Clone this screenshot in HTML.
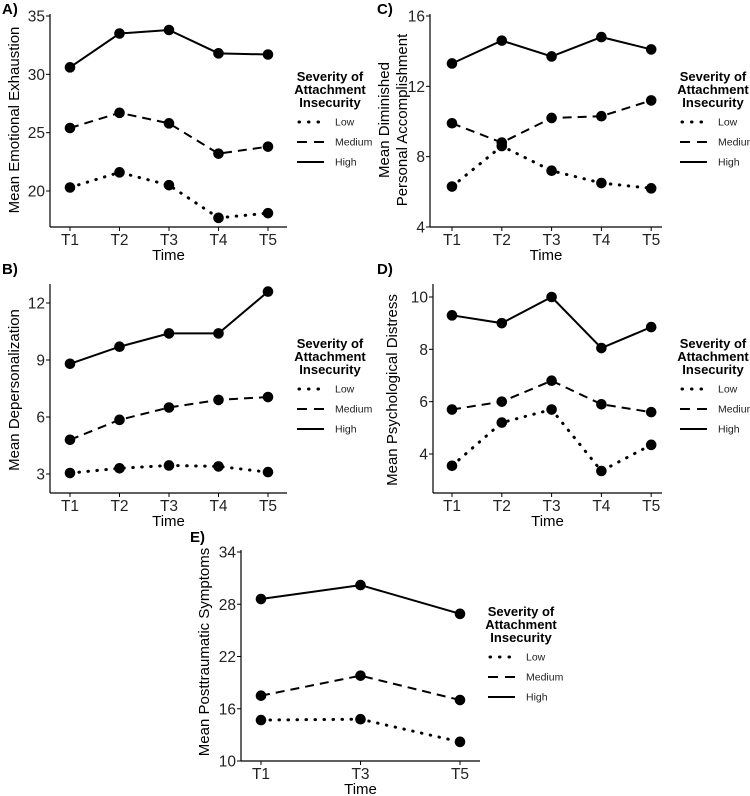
<!DOCTYPE html>
<html><head><meta charset="utf-8"><style>
html,body{margin:0;padding:0;background:#fff;}
svg{display:block;font-family:"Liberation Sans",Arial,sans-serif;}
</style></head><body>
<svg id="fig" width="750" height="796" viewBox="0 0 750 796" xmlns="http://www.w3.org/2000/svg"></svg>
<script>
const ticksT5 = ["T1","T2","T3","T4","T5"];
const ticksT3 = ["T1","T3","T5"];
const seriesNames = ["Low","Medium","High"];
// Panel A
const aHigh = [30.6, 33.5, 33.8, 31.8, 31.7];
const aMed  = [25.4, 26.7, 25.8, 23.2, 23.8];
const aLow  = [20.3, 21.6, 20.5, 17.7, 18.1];
const aTicks = [20, 25, 30, 35];
// Panel C
const cHigh = [13.3, 14.6, 13.7, 14.8, 14.1];
const cMed  = [9.9, 8.8, 10.2, 10.3, 11.2];
const cLow  = [6.3, 8.6, 7.2, 6.5, 6.2];
const cTicks = [4, 8, 12, 16];
// Panel B
const bHigh = [8.8, 9.7, 10.4, 10.4, 12.6];
const bMed  = [4.8, 5.85, 6.5, 6.9, 7.05];
const bLow  = [3.05, 3.3, 3.45, 3.4, 3.1];
const bTicks = [3, 6, 9, 12];
// Panel D
const dHigh = [9.3, 9.0, 10.0, 8.05, 8.85];
const dMed  = [5.7, 6.0, 6.8, 5.9, 5.6];
const dLow  = [3.55, 5.2, 5.7, 3.35, 4.35];
const dTicks = [4, 6, 8, 10];
// Panel E
const eHigh = [28.6, 30.2, 26.9];
const eMed  = [17.5, 19.8, 17.0];
const eLow  = [14.7, 14.8, 12.2];
const eTicks = [10, 16, 22, 28, 34];

const NS = "http://www.w3.org/2000/svg";
const svg = document.getElementById('fig');
function mk(tag, attrs, parent, text){
  const e = document.createElementNS(NS, tag);
  for (const k in attrs) e.setAttribute(k, attrs[k]);
  if (text !== undefined) e.textContent = text;
  (parent || svg).appendChild(e);
  return e;
}
const styles = {Low:"0.5 8.5", Medium:"9 6", High:""};

function panel(p){
  const g = mk('g', {});
  
  
  const yS = v => p.y0 + (v - p.v0) * (p.y1 - p.y0) / (p.v1 - p.v0);
  const xS = i => p.x0 + i * p.dx;
  const lab = mk('text', {x:p.lx, y:p.ly, 'font-size':15, 'font-weight':'bold'}, g, p.id.toUpperCase() + ')');
  
  
  const ya = mk('line', {x1:p.ax, y1:p.top, x2:p.ax, y2:p.bot, stroke:'#000', 'stroke-width':1.2}, g);
  
  
  const xa = mk('line', {x1:p.ax, y1:p.bot, x2:p.xend, y2:p.bot, stroke:'#000', 'stroke-width':1.2}, g);
  
  
  p.yticks.forEach(v => {
    const y = yS(v);
    mk('line', {x1:p.ax-4, y1:y, x2:p.ax, y2:y, stroke:'#000', 'stroke-width':1}, g);
    const t = mk('text', {x:p.ax-5, y:y+5.5, 'font-size':15.5, 'text-anchor':'end', fill:'#222'}, g, String(v));
    
    
  });
  p.xticks.forEach((lbl, i) => {
    const x = xS(i);
    mk('line', {x1:x, y1:p.bot, x2:x, y2:p.bot+4, stroke:'#000', 'stroke-width':1}, g);
    const t = mk('text', {x:x, y:p.bot+18, 'font-size':15.5, 'text-anchor':'middle', fill:'#222'}, g, lbl);
    
    
  });
  const xt = mk('text', {x:(p.ax+p.xend)/2, y:p.bot+33, 'font-size':15, 'text-anchor':'middle'}, g, 'Time');
  
  
  const yt = mk('text', {transform:`translate(${p.ytx},${p.yty}) rotate(-90)`, 'font-size':15, 'text-anchor':'middle'}, g);
  
  
  p.ytitle.forEach((s, k) => {
    mk('tspan', {x:0, dy: k === 0 ? (p.ytitle.length > 1 ? -4 : 5) : 18}, yt, s);
  });
  const data = {Low:p.low, Medium:p.med, High:p.high};
  seriesNames.forEach(name => {
    const vals = data[name];
    const pts = vals.map((v, i) => xS(i) + ',' + yS(v)).join(' ');
    const attrs = {points:pts, fill:'none', stroke:'#000', 'stroke-width': name === 'Low' ? 3 : 2};
    if (styles[name]) { attrs['stroke-dasharray'] = styles[name]; attrs['stroke-linecap'] = name === 'Low' ? 'round' : 'butt'; }
    const pl = mk('polyline', attrs, g);
    
    
    vals.forEach((v, i) => {
      const c = mk('circle', {cx:xS(i), cy:yS(v), r:5.3, fill:'#000'}, g);
      
      
    });
  });
  const lg = mk('g', {}, g);
  
  
  ['Severity of', 'Attachment', 'Insecurity'].forEach((s, k) => {
    mk('text', {x:p.legx+33, y:p.legy + k*13, 'font-size':13, 'font-weight':'bold', 'text-anchor':'middle'}, lg, s);
  });
  seriesNames.forEach((name, k) => {
    const y = p.legy + 41 + k*20;
    const attrs = {x1:p.legx, y1:y, x2:p.legx+27, y2:y, stroke:'#000', 'stroke-width':2};
    if (name === 'Low') { attrs['stroke-dasharray'] = '0.5 9'; attrs['stroke-linecap'] = 'round'; attrs['stroke-width'] = 3; attrs.x1 = p.legx + 2; }
    if (name === 'Medium') attrs['stroke-dasharray'] = '10 7';
    const ln = mk('line', attrs, lg);
    
    
    const t = mk('text', {x:p.legx+38, y:y+3.5, 'font-size':10.5, fill:'#222'}, lg, name);
    
    
  });
}

panel({id:'a', lx:2, ly:14, ax:50, xend:287, top:14, bot:227, x0:70, dx:49.5,
  v0:20, y0:191, v1:35, y1:16, yticks:aTicks, xticks:ticksT5,
  high:aHigh, med:aMed, low:aLow, ytitle:['Mean Emotional Exhaustion'], ytx:14, yty:120,
  legx:297, legy:81});
panel({id:'c', lx:377, ly:14, ax:430, xend:662, top:14, bot:227, x0:452, dx:49.8,
  v0:4, y0:227, v1:16, y1:16, yticks:cTicks, xticks:ticksT5,
  high:cHigh, med:cMed, low:cLow, ytitle:['Mean Diminished','Personal Accomplishment'], ytx:393, yty:120,
  legx:680, legy:81});
panel({id:'b', lx:2, ly:274, ax:50, xend:287, top:284, bot:493, x0:70, dx:49.5,
  v0:3, y0:474, v1:12, y1:303, yticks:bTicks, xticks:ticksT5,
  high:bHigh, med:bMed, low:bLow, ytitle:['Mean Depersonalization'], ytx:14, yty:390,
  legx:297, legy:348});
panel({id:'d', lx:377, ly:274, ax:433, xend:662, top:284, bot:493, x0:452, dx:49.8,
  v0:4, y0:454, v1:10, y1:297, yticks:dTicks, xticks:ticksT5,
  high:dHigh, med:dMed, low:dLow, ytitle:['Mean Psychological Distress'], ytx:392, yty:390,
  legx:680, legy:348});
panel({id:'e', lx:190, ly:542, ax:241, xend:480, top:550, bot:761, x0:261, dx:99.5,
  v0:10, y0:761, v1:34, y1:552, yticks:eTicks, xticks:ticksT3,
  high:eHigh, med:eMed, low:eLow, ytitle:['Mean Posttraumatic Symptoms'], ytx:204, yty:652,
  legx:488, legy:616});
</script>
</body></html>
